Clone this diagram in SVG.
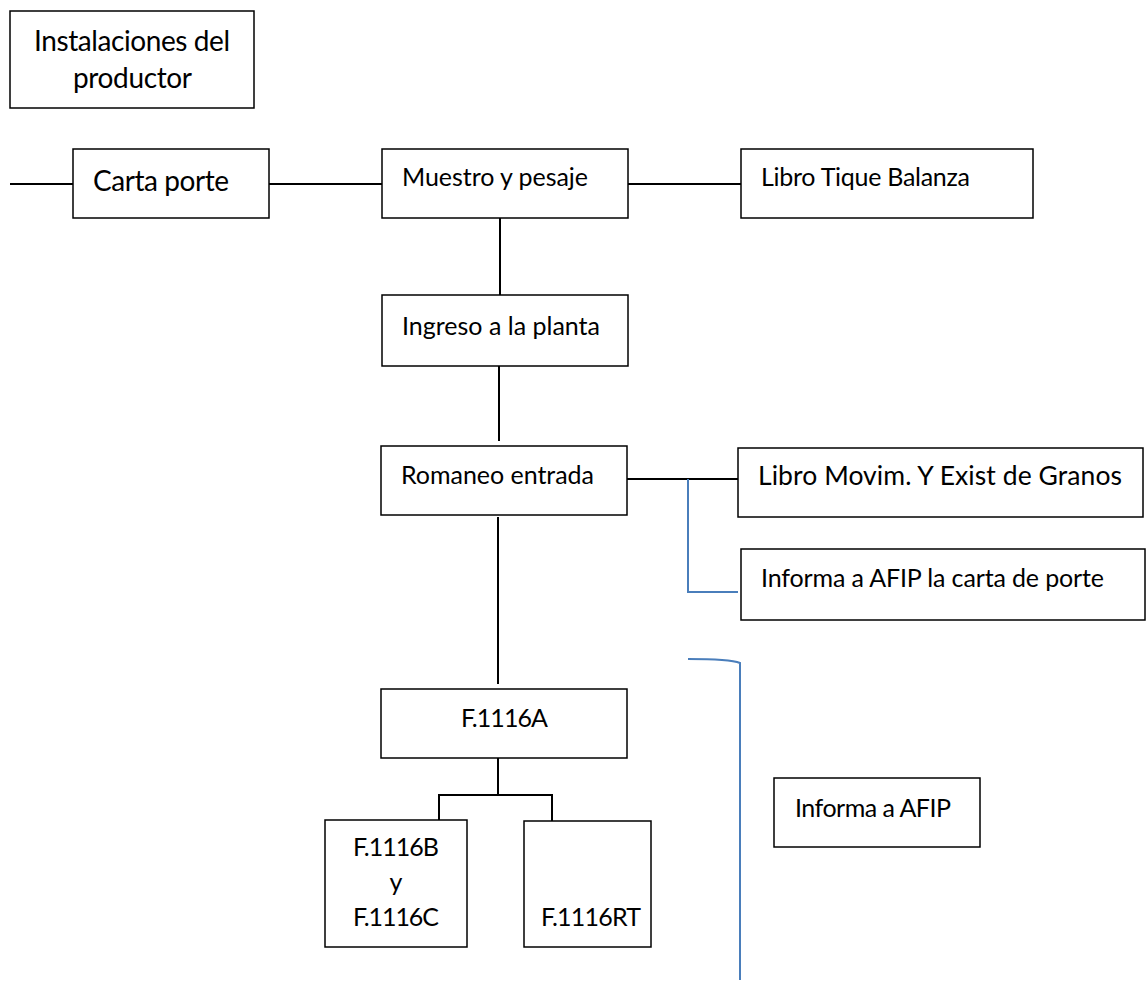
<svg xmlns="http://www.w3.org/2000/svg" width="1147" height="982" viewBox="0 0 1147 982">
<style>
.box{fill:#fff;stroke:#000;stroke-width:1.5}
.ln{fill:none;stroke:#000;stroke-width:2}
.bl{fill:none;stroke:#4a7ebb;stroke-width:2}
text{font-family:Lato,"Liberation Sans",Arial,sans-serif;font-size:25px;fill:#000}
.big{font-size:28px}
.mid{font-size:26.5px}
</style>
<rect width="1147" height="982" fill="#fff"/>
<g id="connectors">
<line class="ln" x1="10" y1="184" x2="73" y2="184"/>
<line class="ln" x1="269" y1="184" x2="382" y2="184"/>
<line class="ln" x1="628" y1="184" x2="741" y2="184"/>
<line class="ln" x1="500" y1="218" x2="500" y2="295"/>
<line class="ln" x1="499" y1="366" x2="499" y2="441"/>
<line class="ln" x1="627" y1="479" x2="738" y2="479"/>
<path class="bl" d="M688 479 V592 H738"/>
<line class="ln" x1="498" y1="517" x2="498" y2="684"/>
<path class="ln" d="M498 758 V795 M439 820 V795 H552 V821"/>
<path class="bl" d="M688 659 Q730 659 740 663 V980"/>
</g>
<g id="instalaciones">
<rect class="box" x="10" y="11" width="244" height="97"/>
<text class="big" x="34" y="51" textLength="196">Instalaciones del</text>
<text class="big" x="73" y="88" textLength="119">productor</text>
</g>
<g id="carta-porte">
<rect class="box" x="73" y="149" width="196" height="69"/>
<text class="big" x="93" y="191" textLength="136">Carta porte</text>
</g>
<g id="muestro">
<rect class="box" x="382" y="149" width="246" height="69"/>
<text x="402" y="186" textLength="186">Muestro y pesaje</text>
</g>
<g id="libro-tique">
<rect class="box" x="741" y="149" width="292" height="69"/>
<text x="761" y="186" textLength="209">Libro Tique Balanza</text>
</g>
<g id="ingreso">
<rect class="box" x="382" y="295" width="246" height="71"/>
<text x="402" y="335" textLength="198">Ingreso a la planta</text>
</g>
<g id="romaneo">
<rect class="box" x="381" y="446" width="246" height="69"/>
<text x="401" y="484" textLength="193">Romaneo entrada</text>
</g>
<g id="libro-movim">
<rect class="box" x="738" y="448" width="405" height="69"/>
<text class="mid" x="758" y="485" textLength="364">Libro Movim. Y Exist de Granos</text>
</g>
<g id="informa-carta">
<rect class="box" x="741" y="549" width="404" height="71"/>
<text x="761" y="587" textLength="343">Informa a AFIP la carta de porte</text>
</g>
<g id="f1116a">
<rect class="box" x="381" y="689" width="246" height="69"/>
<text x="461" y="727" textLength="87">F.1116A</text>
</g>
<g id="f1116bc">
<rect class="box" x="325" y="820" width="142" height="127"/>
<text x="353" y="856" textLength="86">F.1116B</text>
<text x="396" y="891" text-anchor="middle">y</text>
<text x="353" y="926" textLength="86">F.1116C</text>
</g>
<g id="f1116rt">
<rect class="box" x="524" y="821" width="127" height="126"/>
<text x="541" y="926" textLength="100">F.1116RT</text>
</g>
<g id="informa-afip">
<rect class="box" x="774" y="778" width="206" height="69"/>
<text x="795" y="817" textLength="156">Informa a AFIP</text>
</g>
</svg>
